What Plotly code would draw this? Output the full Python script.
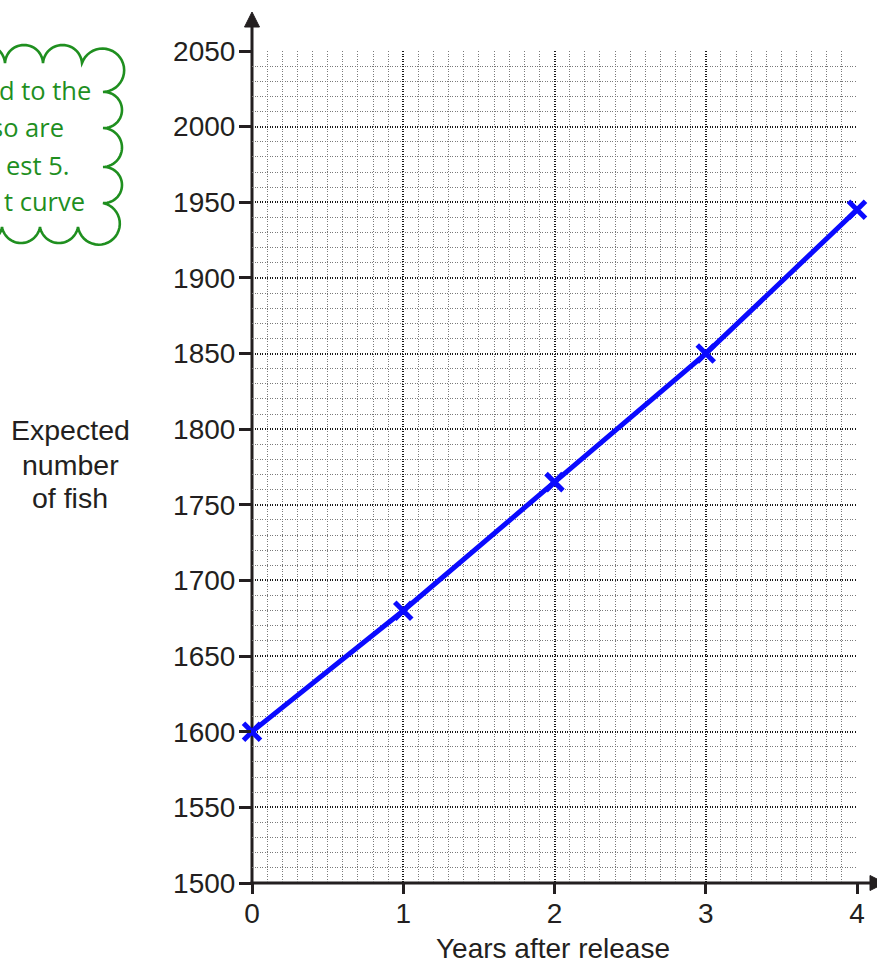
import math
import plotly.graph_objects as go

# ---- data ----
years = [0, 1, 2, 3, 4]
fish = [1600, 1680, 1765, 1850, 1945]
x_tick_vals = [0, 1, 2, 3, 4]
y_tick_vals = list(range(1500, 2051, 50))
x_title = "Years after release"
y_title_lines = ["Expected", "number", "of fish"]
cloud_lines = ["d to the", "so are", "est 5.", "t curve"]

# ---- layout geometry (pixels) ----
W, H = 877, 965
L, R, T, B = 252, 20, 51, 82
PW = W - L - R
PH = H - T - B

TXT = "#231f20"
GREEN = "#1f8f1f"
BLUE = "#0a0aff"
FONT = "Liberation Sans, Arial, sans-serif"


def px(x):
    return (x - L) / PW


def py(y):
    return (H - B - y) / PH


def arc_pts(p0, p1, h, n=28):
    """Circular arc from p0 to p1 (pixel coords) bulging outward by h."""
    dx, dy = p1[0] - p0[0], p1[1] - p0[1]
    c = math.hypot(dx, dy)
    ux, uy = dx / c, dy / c
    nx, ny = uy, -ux
    mx, my = (p0[0] + p1[0]) / 2, (p0[1] + p1[1]) / 2
    r = (c * c / 4 + h * h) / (2 * h)
    cx, cy = mx + nx * (h - r), my + ny * (h - r)
    bx, by = mx + nx * h, my + ny * h
    a0 = math.atan2(p0[1] - cy, p0[0] - cx)
    a1 = math.atan2(p1[1] - cy, p1[0] - cx)
    ab = math.atan2(by - cy, bx - cx)
    sweep = None
    for s in (1, -1):
        d = (s * (a1 - a0)) % (2 * math.pi)
        db = (s * (ab - a0)) % (2 * math.pi)
        if db < d:
            sweep = s * d
            break
    pts = []
    for i in range(1, n + 1):
        a = a0 + sweep * i / n
        pts.append((cx + r * math.cos(a), cy + r * math.sin(a)))
    return pts


# cloud outline (clockwise), pixel positions of the cusps
segments = [
    ((-34, 63), (5, 63), 18),
    ((5, 63), (43, 63), 18),
    ((43, 63), (82, 63), 18),
    ((82, 63), (103, 92), 34),
    ((103, 92), (103, 128), 19),
    ((103, 128), (103, 167), 19),
    ((103, 167), (103, 203), 19),
    ((103, 203), (78, 227), 33),
    ((78, 227), (40, 227), 16),
    ((40, 227), (2, 227), 16),
    ((2, 227), (-36, 227), 16),
]
pts = [segments[0][0]]
for p0, p1, h in segments:
    pts += arc_pts(p0, p1, h)
cloud_path = "M " + " L ".join(f"{px(x):.5f},{py(y):.5f}" for x, y in pts)

fig = go.Figure()
fig.add_trace(go.Scatter(
    x=years, y=fish, mode="lines+markers",
    line=dict(color=BLUE, width=5),
    marker=dict(symbol="x-thin", size=17, line=dict(color=BLUE, width=5)),
    cliponaxis=False, showlegend=False, hoverinfo="skip",
))

shapes = [
    # y axis line + extension
    dict(type="line", xref="paper", yref="paper", layer="below",
         x0=px(252), x1=px(252), y0=py(884.5), y1=py(25),
         line=dict(color=TXT, width=3)),
    # x axis line + extension
    dict(type="line", xref="paper", yref="paper", layer="below",
         x0=px(250.5), x1=px(872), y0=py(883), y1=py(883),
         line=dict(color=TXT, width=3)),
    # arrowheads
    dict(type="path", xref="paper", yref="paper",
         path=f"M {px(244.5)},{py(27)} L {px(259.5)},{py(27)} L {px(252)},{py(12)} Z",
         fillcolor=TXT, line=dict(color=TXT, width=1)),
    dict(type="path", xref="paper", yref="paper",
         path=f"M {px(870)},{py(875.5)} L {px(870)},{py(890.5)} L {px(885)},{py(883)} Z",
         fillcolor=TXT, line=dict(color=TXT, width=1)),
    # cloud
    dict(type="path", xref="paper", yref="paper", path=cloud_path,
         line=dict(color=GREEN, width=2.6)),
]

annotations = []
for txt, yc in zip(y_title_lines, [430, 465, 498]):
    annotations.append(dict(text=txt, x=px(70), y=py(yc), xref="paper", yref="paper",
                            xanchor="center", yanchor="middle", showarrow=False,
                            font=dict(family=FONT, size=28.5, color=TXT)))
annotations.append(dict(text=x_title, x=px(553), y=py(948), xref="paper", yref="paper",
                        xanchor="center", yanchor="middle", showarrow=False,
                        font=dict(family=FONT, size=28, color=TXT)))
for txt, xr, yc in zip(cloud_lines, [93, 66, 71, 87], [90, 127, 165, 201]):
    annotations.append(dict(text=txt, x=px(xr), y=py(yc), xref="paper", yref="paper",
                            xanchor="right", yanchor="middle", showarrow=False,
                            font=dict(family="Open Sans, sans-serif", size=25.5, color=GREEN)))

grid_dash = "1px,1.5px"
fig.update_layout(
    width=W, height=H,
    margin=dict(l=L, r=R, t=T, b=B, pad=0),
    paper_bgcolor="white", plot_bgcolor="white",
    shapes=shapes, annotations=annotations,
    xaxis=dict(
        range=[0, 4], tickmode="array", tickvals=x_tick_vals,
        ticks="outside", ticklen=10, tickwidth=2.5, tickcolor=TXT,
        showline=False, zeroline=False, ticklabelstandoff=-5,
        showgrid=True, gridcolor="#1a1a1a", gridwidth=1.5, griddash=grid_dash,
        tickfont=dict(family=FONT, size=28, color=TXT),
        minor=dict(tickmode="linear", tick0=0, dtick=0.1, showgrid=True,
                   gridcolor="#7a7a7a", gridwidth=1, griddash=grid_dash, ticks=""),
        fixedrange=True,
    ),
    yaxis=dict(
        range=[1500, 2050], tickmode="array", tickvals=y_tick_vals,
        ticks="outside", ticklen=12, tickwidth=2.5, tickcolor=TXT,
        showline=False, zeroline=False, ticklabelstandoff=-2,
        showgrid=True, gridcolor="#1a1a1a", gridwidth=1.5, griddash=grid_dash,
        tickfont=dict(family=FONT, size=28, color=TXT),
        minor=dict(tickmode="linear", tick0=1500, dtick=10, showgrid=True,
                   gridcolor="#7a7a7a", gridwidth=1, griddash=grid_dash, ticks=""),
        fixedrange=True,
    ),
)

fig.write_html("out.html", config={"displayModeBar": False},
               post_script="document.body.style.margin='0';document.body.style.overflow='hidden';")
